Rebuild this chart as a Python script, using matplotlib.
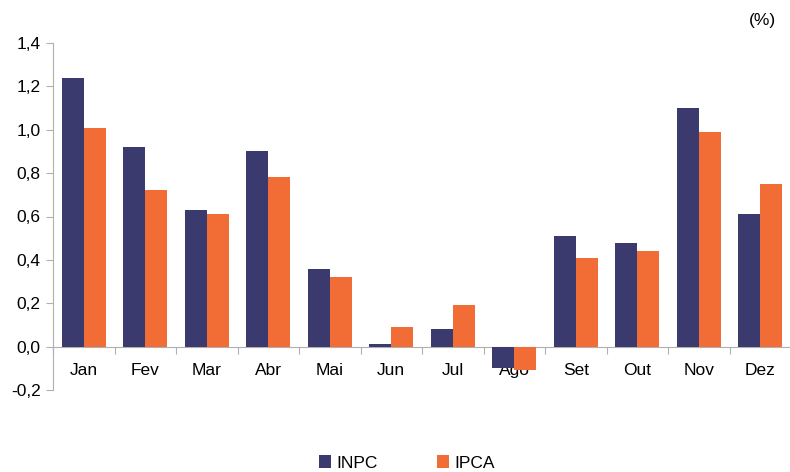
import matplotlib
matplotlib.use("Agg")
import matplotlib.pyplot as plt
import numpy as np
from matplotlib.ticker import FixedLocator

months = ["Jan", "Fev", "Mar", "Abr", "Mai", "Jun", "Jul", "Ago", "Set", "Out", "Nov", "Dez"]
inpc = [1.24, 0.92, 0.63, 0.90, 0.36, 0.01, 0.08, -0.10, 0.51, 0.48, 1.10, 0.61]
ipca = [1.01, 0.72, 0.61, 0.78, 0.32, 0.09, 0.19, -0.11, 0.41, 0.44, 0.99, 0.75]
yticks = [-0.2, 0.0, 0.2, 0.4, 0.6, 0.8, 1.0, 1.2, 1.4]

plt.rcParams['font.family'] = ['Liberation Sans Narrow', 'Liberation Sans', 'DejaVu Sans']

fig = plt.figure(figsize=(7.9, 4.72), dpi=100)
W, H = 790, 472
left, right = 53, 791
top, bottom = 43, 390
ax = fig.add_axes([left / W, 1 - bottom / H, (right - left) / W, (bottom - top) / H])

x = np.arange(len(months))
bw = 0.36
navy = "#3B3A6F"
orange = "#F26C36"
ax.bar(x - bw / 2, inpc, bw, color=navy, linewidth=0, label="INPC", zorder=3)
ax.bar(x + bw / 2, ipca, bw, color=orange, linewidth=0, label="IPCA", zorder=3)

ax.set_xlim(-0.5, len(months) - 0.5)
ax.set_ylim(-0.2, 1.4)
ax.set_yticks(yticks)
ax.set_yticklabels([f"{v:.1f}".replace(".", ",") for v in yticks], fontsize=12.5)

for s in ["top", "right"]:
    ax.spines[s].set_visible(False)
ax.spines["bottom"].set_position(("data", 0))
ax.spines["bottom"].set_color("#B0B0B0")
ax.spines["left"].set_color("#B0B0B0")
ax.tick_params(axis="y", color="#B0B0B0", length=5, pad=4)
ax.xaxis.set_major_locator(FixedLocator(np.arange(len(months) + 1) - 0.5))
ax.xaxis.set_minor_locator(FixedLocator(x))
ax.tick_params(axis="x", which="major", color="#B0B0B0", length=5, labelbottom=False)
ax.tick_params(axis="x", which="minor", length=0, labelsize=12.5, pad=12)
ax.set_xticks(x, minor=True)
ax.set_xticklabels(months, minor=True, fontsize=12.5)

fig.text(762 / W, 1 - 20 / H, "(%)", fontsize=12.5, ha="center", va="center")

leg = fig.legend(loc="center", bbox_to_anchor=(407 / W, 1 - 463 / H), ncol=2, frameon=False,
                 fontsize=12.5, handlelength=0.7, handleheight=0.7, handletextpad=0.3,
                 columnspacing=3.4)

fig.savefig("out.png", dpi=100)
